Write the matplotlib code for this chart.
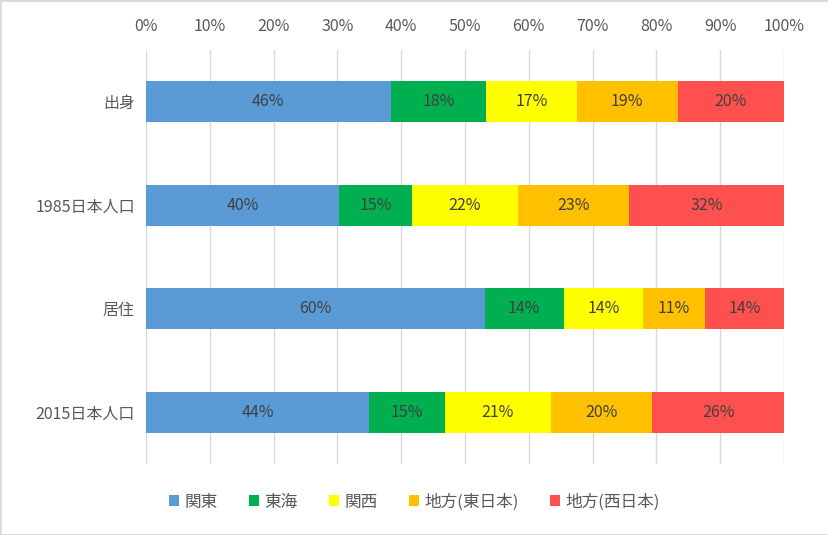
import matplotlib
matplotlib.use('Agg')
import matplotlib.pyplot as plt
from matplotlib.ticker import PercentFormatter
from matplotlib.patches import Rectangle

plt.rcParams['font.family'] = ['Noto Sans CJK JP', 'DejaVu Sans']

# categories (top to bottom) and regional values as shown in labels
categories = ['出身', '1985日本人口', '居住', '2015日本人口']
regions = ['関東', '東海', '関西', '地方(東日本)', '地方(西日本)']
kanto = [46, 40, 60, 44]
tokai = [18, 15, 14, 15]
kansai = [17, 22, 14, 21]
higashi = [19, 23, 11, 20]
nishi = [20, 32, 14, 26]
colors = ['#5B9BD5', '#00B050', '#FFFF00', '#FFC000', '#FF5050']

series = [kanto, tokai, kansai, higashi, nishi]
totals = [sum(v) for v in zip(*series)]

fig = plt.figure(figsize=(8.29, 5.35), dpi=100)
ax = fig.add_axes([146/829, 1-464/535, (784-146)/829, 414/535])

ypos = list(range(len(categories)))
left = [0.0] * len(categories)
for name, vals, col in zip(regions, series, colors):
    widths = [v / t for v, t in zip(vals, totals)]
    bars = ax.barh(ypos, widths, left=left, height=0.4, color=col, label=name, zorder=3)
    for b, v in zip(bars, vals):
        ax.text(b.get_x() + b.get_width()/2, b.get_y() + b.get_height()/2, f'{v}%',
                ha='center', va='center', fontsize=11.5, color='#404040', zorder=4)
    left = [l + w for l, w in zip(left, widths)]

ax.set_xlim(0, 1)
ax.set_ylim(3.5, -0.5)
ax.set_xticks([i/10 for i in range(11)])
ax.xaxis.set_major_formatter(PercentFormatter(1.0, decimals=0))
ax.xaxis.tick_top()
ax.set_yticks(ypos)
ax.set_yticklabels(categories)
ax.tick_params(axis='both', length=0, labelsize=11.5, colors='#595959')
ax.tick_params(axis='x', pad=11)
ax.tick_params(axis='y', pad=8)
ax.grid(axis='x', color='#D9D9D9', linewidth=1, zorder=0)
for s in ax.spines.values():
    s.set_visible(False)

fig.legend(loc='center', bbox_to_anchor=(0.5, 1-502/535), ncol=5, frameon=False,
           fontsize=12, handlelength=0.6, handleheight=0.6, handletextpad=0.3,
           columnspacing=1.9, labelcolor='#595959')

fig.patches.append(Rectangle((0, 0), 1, 1, transform=fig.transFigure, fill=False,
                             edgecolor='#D9D9D9', linewidth=2))

fig.savefig('out.png', dpi=100)
